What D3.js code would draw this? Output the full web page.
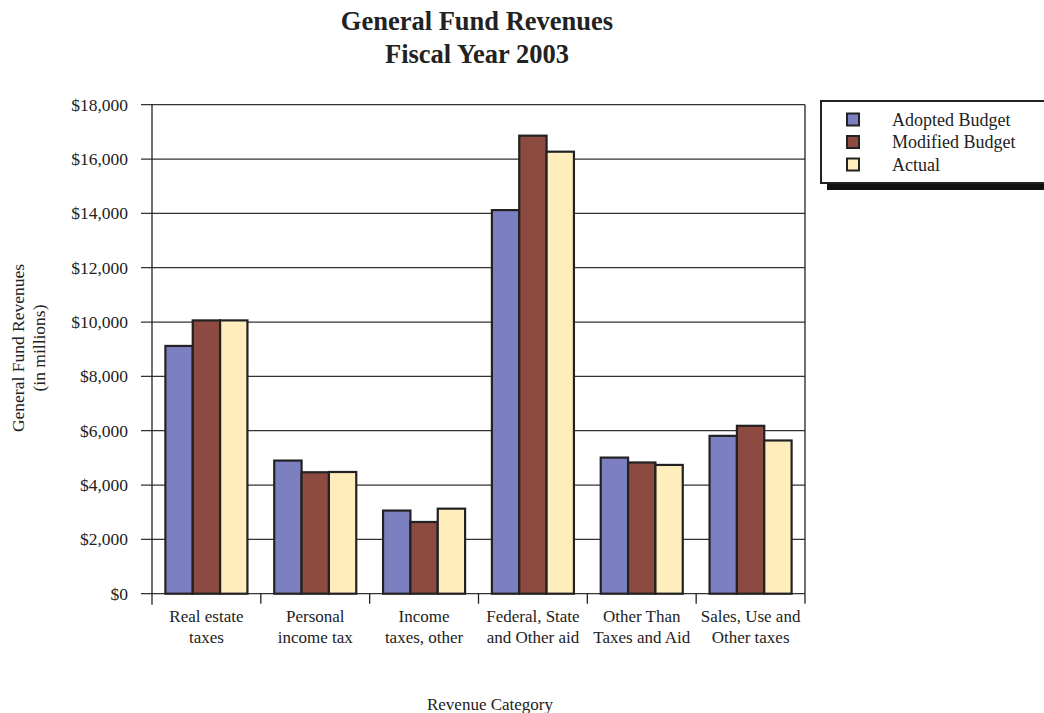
<!DOCTYPE html>
<html>
<head>
<meta charset="utf-8">
<script src="https://cdn.jsdelivr.net/npm/d3@7"></script>
<style>
  body { margin: 0; background: #fff; }
  svg { font-family: "Liberation Serif", "Times New Roman", serif; }
</style>
</head>
<body>
<svg width="1044" height="713"></svg>
<script>
var categories = [
    ["Real estate", "taxes"],
    ["Personal", "income tax"],
    ["Income", "taxes, other"],
    ["Federal, State", "and Other aid"],
    ["Other Than", "Taxes and Aid"],
    ["Sales, Use and", "Other taxes"]
];
var seriesNames = ["Adopted Budget", "Modified Budget", "Actual"];
var adopted = [9120, 4900, 3060, 14120, 5010, 5810];
var modified = [10060, 4470, 2640, 16860, 4830, 6180];
var actual = [10060, 4480, 3130, 16270, 4740, 5640];
var yTicks = [0, 2000, 4000, 6000, 8000, 10000, 12000, 14000, 16000, 18000];

var colors = ["#7c80c0", "#8c4a40", "#ffedbc"];
var series = [adopted, modified, actual];

var svg = d3.select("svg");
// plot box (don't use "top", it's window.top)
var plotL = 152, plotR = 805, plotT = 104.7, plotB = 593.7;

var x = d3.scaleBand()
    .domain(d3.range(categories.length))
    .range([plotL, plotR]);

var xs = d3.scaleBand()
    .domain(d3.range(series.length))
    .range([0, x.bandwidth()])
    .paddingOuter(0.49)
    .paddingInner(0);

var y = d3.scaleLinear()
    .domain([0, 18000])
    .range([plotB, plotT]);

// gridlines
svg.append("g")
    .selectAll("line")
    .data(yTicks)
    .enter().append("line")
    .attr("x1", plotL - 11)
    .attr("x2", plotR)
    .attr("y1", function(d) { return y(d); })
    .attr("y2", function(d) { return y(d); })
    .attr("stroke", "#333")
    .attr("stroke-width", 1.2);

// y labels
svg.append("g")
    .selectAll("text")
    .data(yTicks)
    .enter().append("text")
    .attr("x", 128)
    .attr("y", function(d) { return y(d) + 6; })
    .attr("text-anchor", "end")
    .attr("font-size", 17.5)
    .attr("fill", "#222")
    .text(function(d) { return "$" + d3.format(",")(d); });

// bars
var groups = svg.append("g")
    .selectAll("g")
    .data(categories)
    .enter().append("g")
    .attr("transform", function(d, i) { return "translate(" + x(i) + ",0)"; });

groups.selectAll("rect")
    .data(function(d, i) { return series.map(function(s, j) { return {s: j, v: s[i]}; }); })
    .enter().append("rect")
    .attr("x", function(d) { return xs(d.s); })
    .attr("y", function(d) { return y(d.v); })
    .attr("width", xs.bandwidth())
    .attr("height", function(d) { return y(0) - y(d.v); })
    .attr("fill", function(d) { return colors[d.s]; })
    .attr("stroke", "#222")
    .attr("stroke-width", 2.2);

// axes lines
svg.append("line")
    .attr("x1", plotL).attr("x2", plotL)
    .attr("y1", plotT).attr("y2", plotB + 11)
    .attr("stroke", "#222").attr("stroke-width", 1.3);
svg.append("line")
    .attr("x1", plotR).attr("x2", plotR)
    .attr("y1", plotT).attr("y2", plotB)
    .attr("stroke", "#222").attr("stroke-width", 1.3);

// category ticks
svg.append("g")
    .selectAll("line")
    .data(d3.range(1, categories.length + 1))
    .enter().append("line")
    .attr("x1", function(i) { return x(0) + i * x.step(); })
    .attr("x2", function(i) { return x(0) + i * x.step(); })
    .attr("y1", plotB)
    .attr("y2", plotB + 10)
    .attr("stroke", "#222").attr("stroke-width", 1.3);

// category labels
var labels = svg.append("g")
    .selectAll("text")
    .data(categories)
    .enter().append("text")
    .attr("text-anchor", "middle")
    .attr("font-size", 17)
    .attr("fill", "#222");
labels.each(function(d, i) {
    var t = d3.select(this);
    d.forEach(function(line, k) {
        t.append("tspan")
            .attr("x", x(i) + x.bandwidth() / 2)
            .attr("y", 622 + k * 21)
            .text(line);
    });
});

// titles
svg.append("text")
    .attr("x", 477).attr("y", 30)
    .attr("text-anchor", "middle")
    .attr("font-size", 26.5).attr("font-weight", "bold")
    .attr("fill", "#222")
    .text("General Fund Revenues");
svg.append("text")
    .attr("x", 477).attr("y", 63)
    .attr("text-anchor", "middle")
    .attr("font-size", 26.5).attr("font-weight", "bold")
    .attr("fill", "#222")
    .text("Fiscal Year 2003");

svg.append("text")
    .attr("x", 490).attr("y", 710)
    .attr("text-anchor", "middle")
    .attr("font-size", 17)
    .attr("fill", "#222")
    .text("Revenue Category");

var yt = svg.append("text")
    .attr("transform", "translate(24,348) rotate(-90)")
    .attr("text-anchor", "middle")
    .attr("font-size", 17.5)
    .attr("fill", "#222");
yt.append("tspan").attr("x", 0).attr("y", 0).text("General Fund Revenues");
yt.append("tspan").attr("x", 0).attr("y", 21).text("(in millions)");

// legend
var legend = svg.append("g");
legend.append("rect")
    .attr("x", 827).attr("y", 106)
    .attr("width", 240).attr("height", 84)
    .attr("fill", "#111");
legend.append("rect")
    .attr("x", 821).attr("y", 101)
    .attr("width", 240).attr("height", 82)
    .attr("fill", "#fff")
    .attr("stroke", "#222")
    .attr("stroke-width", 2);

var items = legend.selectAll("g.item")
    .data(seriesNames)
    .enter().append("g")
    .attr("class", "item")
    .attr("transform", function(d, i) { return "translate(0," + (119.5 + i * 22.5) + ")"; });
items.append("rect")
    .attr("x", 847).attr("y", -6)
    .attr("width", 12).attr("height", 12)
    .attr("fill", function(d, i) { return colors[i]; })
    .attr("stroke", "#222")
    .attr("stroke-width", 2);
items.append("text")
    .attr("x", 892).attr("y", 6)
    .attr("font-size", 18)
    .attr("fill", "#222")
    .text(function(d) { return d; });
</script>
</body>
</html>
